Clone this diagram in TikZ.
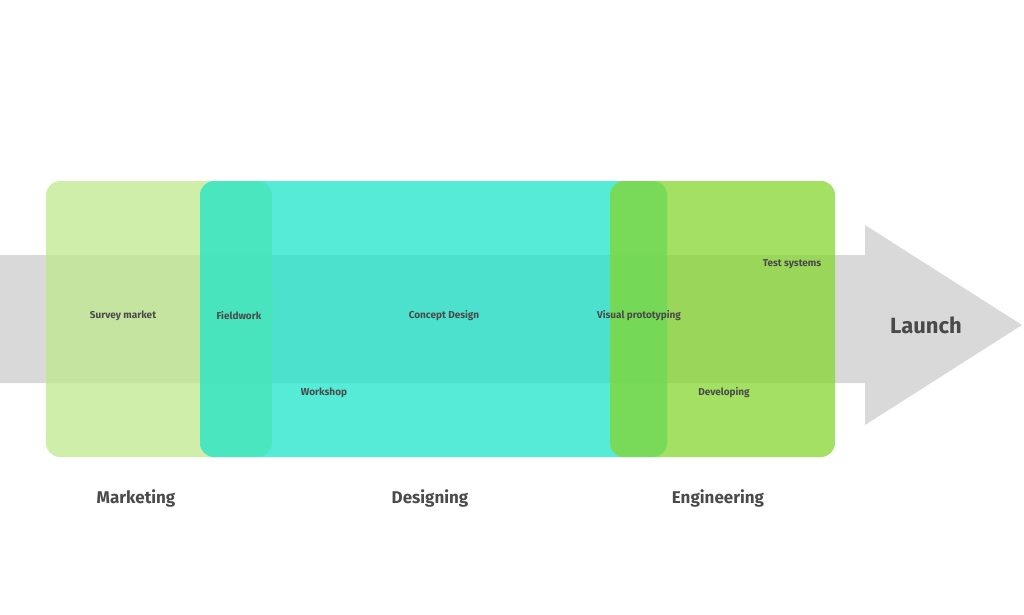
\documentclass[tikz,border=0pt]{standalone}
\usepackage{fontspec}
\setmainfont{Fira Sans}
\definecolor{mk}{HTML}{BFE88E}
\definecolor{ds}{HTML}{1EE4C8}
\definecolor{en}{HTML}{84D62F}
\definecolor{ar}{HTML}{D9D9D9}
\definecolor{tx}{HTML}{4A4A4A}
\begin{document}
\begin{tikzpicture}[x=1pt,y=-1pt,
  box/.style={rounded corners=14pt,fill opacity=0.75},
  sm/.style={text=tx,font=\fontsize{10}{12}\selectfont\bfseries},
  big/.style={text=tx,font=\fontsize{17}{20}\selectfont\bfseries}]
\useasboundingbox (0,0) rectangle (1024,614);
\fill[ar] (0,255) -- (865,255) -- (865,225) -- (1022,325) -- (865,425) -- (865,383) -- (0,383) -- cycle;
\fill[box,mk] (46,181) rectangle (272,457);
\fill[box,ds] (200,181) rectangle (667,457);
\fill[box,en] (610,181) rectangle (835,457);
\node[sm] (a) at (123,316) {Survey market};
\node[sm] (b) at (239,316) {Fieldwork};
\node[sm] (c) at (444,316) {Concept Design};
\node[sm] (d) at (639,316) {Visual prototyping};
\node[sm] (e) at (324,393) {Workshop};
\node[sm] (f) at (724,393) {Developing};
\node[sm] (g) at (792,264) {Test systems};
\node[big] (m) at (136,498) {Marketing};
\node[big] (n) at (430,498) {Designing};
\node[big] (o) at (718,498) {Engineering};
\node[text=tx,font=\fontsize{22}{26}\selectfont\bfseries] (l) at (926,325) {Launch};
\end{tikzpicture}
\end{document}
